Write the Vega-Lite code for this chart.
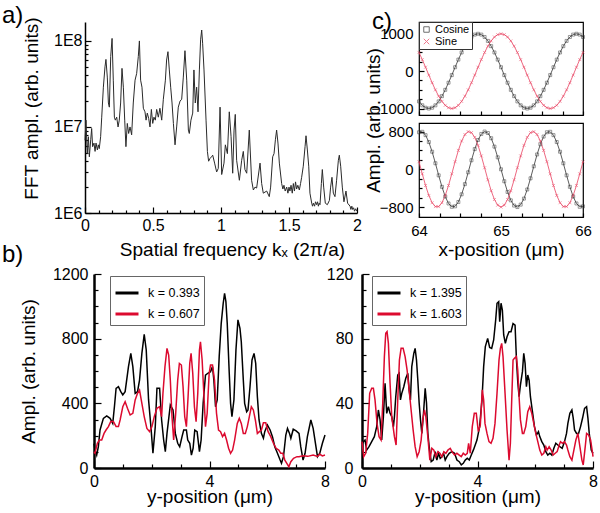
{
"$schema":"https://vega.github.io/schema/vega-lite/v6.json",
"padding":{"left":2,"top":3,"right":2,"bottom":2},
"config":{"font":"Liberation Sans","view":{"stroke":null},
"axis":{"labelFont":"Liberation Sans","titleFont":"Liberation Sans","labelFontSize":16,"titleFontSize":19,"titleFontWeight":"normal","labelColor":"#000","titleColor":"#000","domainColor":"#000","tickColor":"#000","grid":false,"labelOverlap":false,"labelFlush":false,"labelBound":false,"domainWidth":1.5,"tickWidth":1.2},
"title":{"font":"Liberation Sans","fontSize":24,"fontWeight":"normal","anchor":"start","frame":"group","color":"#000","offset":2,"baseline":"alphabetic"},
"legend":{"labelFont":"Liberation Sans","labelColor":"#000"}},
"datasets":{
"fft":[{"k":0,"a":7000000},{"k":0.007,"a":12000000},{"k":0.017,"a":4900000},{"k":0.025,"a":7700000},{"k":0.032,"a":4500000},{"k":0.042,"a":7100000},{"k":0.049,"a":9600000},{"k":0.056,"a":5900000},{"k":0.066,"a":6500000},{"k":0.074,"a":5200000},{"k":0.081,"a":6500000},{"k":0.091,"a":5400000},{"k":0.098,"a":6200000},{"k":0.105,"a":5600000},{"k":0.115,"a":7700000},{"k":0.123,"a":13000000},{"k":0.135,"a":29000000},{"k":0.147,"a":50000000},{"k":0.154,"a":61000000},{"k":0.164,"a":38000000},{"k":0.172,"a":19000000},{"k":0.179,"a":17000000},{"k":0.189,"a":66000000},{"k":0.199,"a":107000000},{"k":0.208,"a":35000000},{"k":0.216,"a":13000000},{"k":0.223,"a":12000000},{"k":0.233,"a":13000000},{"k":0.243,"a":10000000},{"k":0.252,"a":12000000},{"k":0.262,"a":19000000},{"k":0.272,"a":48000000},{"k":0.282,"a":29000000},{"k":0.292,"a":12000000},{"k":0.301,"a":5900000},{"k":0.311,"a":11000000},{"k":0.321,"a":8400000},{"k":0.331,"a":10000000},{"k":0.343,"a":8100000},{"k":0.355,"a":19000000},{"k":0.368,"a":35000000},{"k":0.38,"a":42000000},{"k":0.392,"a":66000000},{"k":0.4,"a":100000000},{"k":0.409,"a":35000000},{"k":0.419,"a":29000000},{"k":0.429,"a":16500000},{"k":0.441,"a":15000000},{"k":0.449,"a":12000000},{"k":0.458,"a":14500000},{"k":0.468,"a":12600000},{"k":0.478,"a":10000000},{"k":0.488,"a":16000000},{"k":0.498,"a":11000000},{"k":0.507,"a":13000000},{"k":0.517,"a":12000000},{"k":0.527,"a":16000000},{"k":0.539,"a":13000000},{"k":0.551,"a":16500000},{"k":0.564,"a":12000000},{"k":0.576,"a":21000000},{"k":0.591,"a":35000000},{"k":0.6,"a":60000000},{"k":0.61,"a":75000000},{"k":0.62,"a":46000000},{"k":0.63,"a":29000000},{"k":0.64,"a":19000000},{"k":0.65,"a":11000000},{"k":0.662,"a":6200000},{"k":0.674,"a":10000000},{"k":0.686,"a":17000000},{"k":0.699,"a":20000000},{"k":0.711,"a":21000000},{"k":0.723,"a":38000000},{"k":0.735,"a":77000000},{"k":0.748,"a":35000000},{"k":0.76,"a":9200000},{"k":0.767,"a":8400000},{"k":0.779,"a":12000000},{"k":0.792,"a":14500000},{"k":0.801,"a":46000000},{"k":0.811,"a":19000000},{"k":0.821,"a":29000000},{"k":0.831,"a":15000000},{"k":0.841,"a":46000000},{"k":0.85,"a":103000000},{"k":0.858,"a":134000000},{"k":0.865,"a":94000000},{"k":0.875,"a":46000000},{"k":0.89,"a":12000000},{"k":0.9,"a":5200000},{"k":0.909,"a":4000000},{"k":0.919,"a":4300000},{"k":0.93,"a":4500000},{"k":0.939,"a":4700000},{"k":0.953,"a":3800000},{"k":0.968,"a":3000000},{"k":0.98,"a":3300000},{"k":0.993,"a":17000000},{"k":1.005,"a":2800000},{"k":1.022,"a":3800000},{"k":1.032,"a":6200000},{"k":1.047,"a":4900000},{"k":1.061,"a":15000000},{"k":1.074,"a":7700000},{"k":1.086,"a":2900000},{"k":1.096,"a":9200000},{"k":1.105,"a":14000000},{"k":1.115,"a":4100000},{"k":1.135,"a":2400000},{"k":1.152,"a":4100000},{"k":1.164,"a":5200000},{"k":1.176,"a":3200000},{"k":1.189,"a":2900000},{"k":1.208,"a":9200000},{"k":1.225,"a":2400000},{"k":1.238,"a":1850000},{"k":1.25,"a":2000000},{"k":1.262,"a":1950000},{"k":1.287,"a":3800000},{"k":1.299,"a":2200000},{"k":1.311,"a":1700000},{"k":1.336,"a":1800000},{"k":1.355,"a":1550000},{"k":1.365,"a":2000000},{"k":1.38,"a":4500000},{"k":1.39,"a":4900000},{"k":1.4,"a":7100000},{"k":1.409,"a":9200000},{"k":1.419,"a":6500000},{"k":1.429,"a":3800000},{"k":1.446,"a":2200000},{"k":1.455,"a":1900000},{"k":1.463,"a":2100000},{"k":1.472,"a":1800000},{"k":1.483,"a":2000000},{"k":1.492,"a":1700000},{"k":1.5,"a":2000000},{"k":1.507,"a":1800000},{"k":1.515,"a":2100000},{"k":1.524,"a":1700000},{"k":1.532,"a":2200000},{"k":1.54,"a":1800000},{"k":1.548,"a":2300000},{"k":1.556,"a":1900000},{"k":1.565,"a":2100000},{"k":1.576,"a":1850000},{"k":1.585,"a":2200000},{"k":1.593,"a":2600000},{"k":1.605,"a":3500000},{"k":1.618,"a":5900000},{"k":1.625,"a":7900000},{"k":1.635,"a":5400000},{"k":1.645,"a":3500000},{"k":1.654,"a":1700000},{"k":1.667,"a":1300000},{"k":1.673,"a":1200000},{"k":1.679,"a":1300000},{"k":1.688,"a":1200000},{"k":1.695,"a":1350000},{"k":1.703,"a":1250000},{"k":1.71,"a":1350000},{"k":1.716,"a":1200000},{"k":1.722,"a":1300000},{"k":1.728,"a":1250000},{"k":1.738,"a":2200000},{"k":1.745,"a":3200000},{"k":1.755,"a":2000000},{"k":1.767,"a":1300000},{"k":1.782,"a":1250000},{"k":1.797,"a":1400000},{"k":1.806,"a":2000000},{"k":1.816,"a":2600000},{"k":1.826,"a":1700000},{"k":1.838,"a":1550000},{"k":1.85,"a":2400000},{"k":1.863,"a":4100000},{"k":1.87,"a":4700000},{"k":1.88,"a":3500000},{"k":1.892,"a":2000000},{"k":1.904,"a":1350000},{"k":1.919,"a":1800000},{"k":1.931,"a":1300000},{"k":1.949,"a":1200000},{"k":1.955,"a":1100000},{"k":1.962,"a":1200000},{"k":1.968,"a":1100000},{"k":1.975,"a":1150000},{"k":1.982,"a":1050000},{"k":1.99,"a":1120000},{"k":2,"a":1050000}],
"c1":[{"x":64,"Cosine":-809,"Sine":500},{"x":64.04,"Cosine":-914,"Sine":309},{"x":64.08,"Cosine":-978,"Sine":105},{"x":64.12,"Cosine":-1000,"Sine":-105},{"x":64.16,"Cosine":-978,"Sine":-309},{"x":64.2,"Cosine":-914,"Sine":-500},{"x":64.24,"Cosine":-809,"Sine":-669},{"x":64.28,"Cosine":-669,"Sine":-809},{"x":64.32,"Cosine":-500,"Sine":-914},{"x":64.36,"Cosine":-309,"Sine":-978},{"x":64.4,"Cosine":-105,"Sine":-1000},{"x":64.44,"Cosine":105,"Sine":-978},{"x":64.48,"Cosine":309,"Sine":-914},{"x":64.52,"Cosine":500,"Sine":-809},{"x":64.56,"Cosine":669,"Sine":-669},{"x":64.6,"Cosine":809,"Sine":-500},{"x":64.64,"Cosine":914,"Sine":-309},{"x":64.68,"Cosine":978,"Sine":-105},{"x":64.72,"Cosine":1000,"Sine":105},{"x":64.76,"Cosine":978,"Sine":309},{"x":64.8,"Cosine":914,"Sine":500},{"x":64.84,"Cosine":809,"Sine":669},{"x":64.88,"Cosine":669,"Sine":809},{"x":64.92,"Cosine":500,"Sine":914},{"x":64.96,"Cosine":309,"Sine":978},{"x":65,"Cosine":105,"Sine":1000},{"x":65.04,"Cosine":-105,"Sine":978},{"x":65.08,"Cosine":-309,"Sine":914},{"x":65.12,"Cosine":-500,"Sine":809},{"x":65.16,"Cosine":-669,"Sine":669},{"x":65.2,"Cosine":-809,"Sine":500},{"x":65.24,"Cosine":-914,"Sine":309},{"x":65.28,"Cosine":-978,"Sine":105},{"x":65.32,"Cosine":-1000,"Sine":-105},{"x":65.36,"Cosine":-978,"Sine":-309},{"x":65.4,"Cosine":-914,"Sine":-500},{"x":65.44,"Cosine":-809,"Sine":-669},{"x":65.48,"Cosine":-669,"Sine":-809},{"x":65.52,"Cosine":-500,"Sine":-914},{"x":65.56,"Cosine":-309,"Sine":-978},{"x":65.6,"Cosine":-105,"Sine":-1000},{"x":65.64,"Cosine":105,"Sine":-978},{"x":65.68,"Cosine":309,"Sine":-914},{"x":65.72,"Cosine":500,"Sine":-809},{"x":65.76,"Cosine":669,"Sine":-669},{"x":65.8,"Cosine":809,"Sine":-500},{"x":65.84,"Cosine":914,"Sine":-309},{"x":65.88,"Cosine":978,"Sine":-105},{"x":65.92,"Cosine":1000,"Sine":105},{"x":65.96,"Cosine":978,"Sine":309},{"x":66,"Cosine":914,"Sine":500}],
"c2":[{"x":64,"Cosine":784,"Sine":160},{"x":64.04,"Cosine":794,"Sine":-96},{"x":64.08,"Cosine":723,"Sine":-343},{"x":64.12,"Cosine":577,"Sine":-554},{"x":64.16,"Cosine":372,"Sine":-708},{"x":64.2,"Cosine":128,"Sine":-790},{"x":64.24,"Cosine":-128,"Sine":-790},{"x":64.28,"Cosine":-372,"Sine":-708},{"x":64.32,"Cosine":-577,"Sine":-554},{"x":64.36,"Cosine":-723,"Sine":-343},{"x":64.4,"Cosine":-794,"Sine":-96},{"x":64.44,"Cosine":-784,"Sine":160},{"x":64.48,"Cosine":-693,"Sine":400},{"x":64.52,"Cosine":-530,"Sine":599},{"x":64.56,"Cosine":-314,"Sine":736},{"x":64.6,"Cosine":-64,"Sine":797},{"x":64.64,"Cosine":191,"Sine":777},{"x":64.68,"Cosine":428,"Sine":676},{"x":64.72,"Cosine":620,"Sine":506},{"x":64.76,"Cosine":748,"Sine":284},{"x":64.8,"Cosine":799,"Sine":32},{"x":64.84,"Cosine":768,"Sine":-223},{"x":64.88,"Cosine":658,"Sine":-454},{"x":64.92,"Cosine":480,"Sine":-640},{"x":64.96,"Cosine":253,"Sine":-759},{"x":65,"Cosine":0,"Sine":-800},{"x":65.04,"Cosine":-253,"Sine":-759},{"x":65.08,"Cosine":-480,"Sine":-640},{"x":65.12,"Cosine":-658,"Sine":-454},{"x":65.16,"Cosine":-768,"Sine":-223},{"x":65.2,"Cosine":-799,"Sine":32},{"x":65.24,"Cosine":-748,"Sine":284},{"x":65.28,"Cosine":-620,"Sine":506},{"x":65.32,"Cosine":-428,"Sine":676},{"x":65.36,"Cosine":-191,"Sine":777},{"x":65.4,"Cosine":64,"Sine":797},{"x":65.44,"Cosine":314,"Sine":736},{"x":65.48,"Cosine":530,"Sine":599},{"x":65.52,"Cosine":693,"Sine":400},{"x":65.56,"Cosine":784,"Sine":160},{"x":65.6,"Cosine":794,"Sine":-96},{"x":65.64,"Cosine":723,"Sine":-343},{"x":65.68,"Cosine":577,"Sine":-554},{"x":65.72,"Cosine":372,"Sine":-708},{"x":65.76,"Cosine":128,"Sine":-790},{"x":65.8,"Cosine":-128,"Sine":-790},{"x":65.84,"Cosine":-372,"Sine":-708},{"x":65.88,"Cosine":-577,"Sine":-554},{"x":65.92,"Cosine":-723,"Sine":-343},{"x":65.96,"Cosine":-794,"Sine":-96},{"x":66,"Cosine":-784,"Sine":160}],
"b1":[{"p":0,"v":150,"s":"k = 0.393"},{"p":0.035,"v":111,"s":"k = 0.393"},{"p":0.093,"v":80,"s":"k = 0.393"},{"p":0.151,"v":132,"s":"k = 0.393"},{"p":0.209,"v":235,"s":"k = 0.393"},{"p":0.325,"v":307,"s":"k = 0.393"},{"p":0.44,"v":322,"s":"k = 0.393"},{"p":0.557,"v":307,"s":"k = 0.393"},{"p":0.649,"v":276,"s":"k = 0.393"},{"p":0.707,"v":379,"s":"k = 0.393"},{"p":0.765,"v":493,"s":"k = 0.393"},{"p":0.846,"v":503,"s":"k = 0.393"},{"p":0.928,"v":472,"s":"k = 0.393"},{"p":0.997,"v":452,"s":"k = 0.393"},{"p":1.078,"v":472,"s":"k = 0.393"},{"p":1.194,"v":627,"s":"k = 0.393"},{"p":1.275,"v":709,"s":"k = 0.393"},{"p":1.345,"v":627,"s":"k = 0.393"},{"p":1.426,"v":462,"s":"k = 0.393"},{"p":1.507,"v":472,"s":"k = 0.393"},{"p":1.577,"v":544,"s":"k = 0.393"},{"p":1.658,"v":709,"s":"k = 0.393"},{"p":1.739,"v":827,"s":"k = 0.393"},{"p":1.809,"v":730,"s":"k = 0.393"},{"p":1.89,"v":421,"s":"k = 0.393"},{"p":1.971,"v":256,"s":"k = 0.393"},{"p":2.041,"v":91,"s":"k = 0.393"},{"p":2.122,"v":256,"s":"k = 0.393"},{"p":2.18,"v":493,"s":"k = 0.393"},{"p":2.272,"v":493,"s":"k = 0.393"},{"p":2.342,"v":297,"s":"k = 0.393"},{"p":2.412,"v":173,"s":"k = 0.393"},{"p":2.47,"v":101,"s":"k = 0.393"},{"p":2.528,"v":214,"s":"k = 0.393"},{"p":2.643,"v":390,"s":"k = 0.393"},{"p":2.736,"v":359,"s":"k = 0.393"},{"p":2.817,"v":214,"s":"k = 0.393"},{"p":2.899,"v":153,"s":"k = 0.393"},{"p":2.968,"v":132,"s":"k = 0.393"},{"p":3.049,"v":194,"s":"k = 0.393"},{"p":3.107,"v":235,"s":"k = 0.393"},{"p":3.2,"v":235,"s":"k = 0.393"},{"p":3.246,"v":173,"s":"k = 0.393"},{"p":3.316,"v":153,"s":"k = 0.393"},{"p":3.374,"v":80,"s":"k = 0.393"},{"p":3.432,"v":122,"s":"k = 0.393"},{"p":3.49,"v":235,"s":"k = 0.393"},{"p":3.571,"v":225,"s":"k = 0.393"},{"p":3.652,"v":101,"s":"k = 0.393"},{"p":3.71,"v":173,"s":"k = 0.393"},{"p":3.78,"v":400,"s":"k = 0.393"},{"p":3.861,"v":575,"s":"k = 0.393"},{"p":3.942,"v":586,"s":"k = 0.393"},{"p":4.035,"v":596,"s":"k = 0.393"},{"p":4.104,"v":627,"s":"k = 0.393"},{"p":4.151,"v":544,"s":"k = 0.393"},{"p":4.209,"v":379,"s":"k = 0.393"},{"p":4.267,"v":421,"s":"k = 0.393"},{"p":4.336,"v":689,"s":"k = 0.393"},{"p":4.406,"v":895,"s":"k = 0.393"},{"p":4.475,"v":1019,"s":"k = 0.393"},{"p":4.522,"v":1080,"s":"k = 0.393"},{"p":4.568,"v":1029,"s":"k = 0.393"},{"p":4.614,"v":895,"s":"k = 0.393"},{"p":4.684,"v":586,"s":"k = 0.393"},{"p":4.73,"v":400,"s":"k = 0.393"},{"p":4.777,"v":318,"s":"k = 0.393"},{"p":4.846,"v":421,"s":"k = 0.393"},{"p":4.916,"v":730,"s":"k = 0.393"},{"p":4.985,"v":916,"s":"k = 0.393"},{"p":5.055,"v":864,"s":"k = 0.393"},{"p":5.101,"v":781,"s":"k = 0.393"},{"p":5.171,"v":544,"s":"k = 0.393"},{"p":5.217,"v":400,"s":"k = 0.393"},{"p":5.287,"v":348,"s":"k = 0.393"},{"p":5.333,"v":359,"s":"k = 0.393"},{"p":5.403,"v":503,"s":"k = 0.393"},{"p":5.472,"v":668,"s":"k = 0.393"},{"p":5.542,"v":709,"s":"k = 0.393"},{"p":5.6,"v":647,"s":"k = 0.393"},{"p":5.658,"v":441,"s":"k = 0.393"},{"p":5.716,"v":297,"s":"k = 0.393"},{"p":5.797,"v":214,"s":"k = 0.393"},{"p":5.867,"v":184,"s":"k = 0.393"},{"p":5.913,"v":225,"s":"k = 0.393"},{"p":6.006,"v":266,"s":"k = 0.393"},{"p":6.099,"v":235,"s":"k = 0.393"},{"p":6.18,"v":194,"s":"k = 0.393"},{"p":6.261,"v":132,"s":"k = 0.393"},{"p":6.354,"v":91,"s":"k = 0.393"},{"p":6.446,"v":49,"s":"k = 0.393"},{"p":6.493,"v":29,"s":"k = 0.393"},{"p":6.562,"v":70,"s":"k = 0.393"},{"p":6.643,"v":204,"s":"k = 0.393"},{"p":6.701,"v":245,"s":"k = 0.393"},{"p":6.771,"v":214,"s":"k = 0.393"},{"p":6.817,"v":184,"s":"k = 0.393"},{"p":6.9,"v":240,"s":"k = 0.393"},{"p":7,"v":230,"s":"k = 0.393"},{"p":7.1,"v":214,"s":"k = 0.393"},{"p":7.16,"v":132,"s":"k = 0.393"},{"p":7.24,"v":49,"s":"k = 0.393"},{"p":7.31,"v":91,"s":"k = 0.393"},{"p":7.39,"v":194,"s":"k = 0.393"},{"p":7.51,"v":297,"s":"k = 0.393"},{"p":7.59,"v":245,"s":"k = 0.393"},{"p":7.74,"v":70,"s":"k = 0.393"},{"p":7.82,"v":91,"s":"k = 0.393"},{"p":7.91,"v":153,"s":"k = 0.393"},{"p":8,"v":204,"s":"k = 0.393"},
{"p":0,"v":100,"s":"k = 0.607"},{"p":0.035,"v":91,"s":"k = 0.607"},{"p":0.116,"v":153,"s":"k = 0.607"},{"p":0.186,"v":173,"s":"k = 0.607"},{"p":0.267,"v":173,"s":"k = 0.607"},{"p":0.348,"v":214,"s":"k = 0.607"},{"p":0.417,"v":235,"s":"k = 0.607"},{"p":0.499,"v":256,"s":"k = 0.607"},{"p":0.58,"v":287,"s":"k = 0.607"},{"p":0.672,"v":287,"s":"k = 0.607"},{"p":0.765,"v":256,"s":"k = 0.607"},{"p":0.846,"v":256,"s":"k = 0.607"},{"p":0.904,"v":297,"s":"k = 0.607"},{"p":0.997,"v":379,"s":"k = 0.607"},{"p":1.078,"v":410,"s":"k = 0.607"},{"p":1.159,"v":369,"s":"k = 0.607"},{"p":1.252,"v":328,"s":"k = 0.607"},{"p":1.345,"v":338,"s":"k = 0.607"},{"p":1.426,"v":421,"s":"k = 0.607"},{"p":1.507,"v":462,"s":"k = 0.607"},{"p":1.577,"v":482,"s":"k = 0.607"},{"p":1.658,"v":400,"s":"k = 0.607"},{"p":1.739,"v":318,"s":"k = 0.607"},{"p":1.832,"v":245,"s":"k = 0.607"},{"p":1.925,"v":225,"s":"k = 0.607"},{"p":2.006,"v":256,"s":"k = 0.607"},{"p":2.087,"v":318,"s":"k = 0.607"},{"p":2.18,"v":369,"s":"k = 0.607"},{"p":2.272,"v":379,"s":"k = 0.607"},{"p":2.342,"v":318,"s":"k = 0.607"},{"p":2.388,"v":462,"s":"k = 0.607"},{"p":2.458,"v":627,"s":"k = 0.607"},{"p":2.528,"v":740,"s":"k = 0.607"},{"p":2.586,"v":699,"s":"k = 0.607"},{"p":2.643,"v":544,"s":"k = 0.607"},{"p":2.701,"v":318,"s":"k = 0.607"},{"p":2.759,"v":173,"s":"k = 0.607"},{"p":2.829,"v":338,"s":"k = 0.607"},{"p":2.899,"v":544,"s":"k = 0.607"},{"p":2.957,"v":647,"s":"k = 0.607"},{"p":3.026,"v":637,"s":"k = 0.607"},{"p":3.084,"v":503,"s":"k = 0.607"},{"p":3.142,"v":318,"s":"k = 0.607"},{"p":3.2,"v":256,"s":"k = 0.607"},{"p":3.258,"v":441,"s":"k = 0.607"},{"p":3.316,"v":647,"s":"k = 0.607"},{"p":3.362,"v":709,"s":"k = 0.607"},{"p":3.42,"v":586,"s":"k = 0.607"},{"p":3.478,"v":379,"s":"k = 0.607"},{"p":3.536,"v":287,"s":"k = 0.607"},{"p":3.594,"v":462,"s":"k = 0.607"},{"p":3.652,"v":730,"s":"k = 0.607"},{"p":3.687,"v":781,"s":"k = 0.607"},{"p":3.745,"v":668,"s":"k = 0.607"},{"p":3.803,"v":462,"s":"k = 0.607"},{"p":3.861,"v":256,"s":"k = 0.607"},{"p":3.919,"v":338,"s":"k = 0.607"},{"p":3.988,"v":586,"s":"k = 0.607"},{"p":4.035,"v":637,"s":"k = 0.607"},{"p":4.104,"v":637,"s":"k = 0.607"},{"p":4.174,"v":544,"s":"k = 0.607"},{"p":4.243,"v":338,"s":"k = 0.607"},{"p":4.313,"v":235,"s":"k = 0.607"},{"p":4.383,"v":225,"s":"k = 0.607"},{"p":4.452,"v":194,"s":"k = 0.607"},{"p":4.522,"v":214,"s":"k = 0.607"},{"p":4.591,"v":173,"s":"k = 0.607"},{"p":4.661,"v":122,"s":"k = 0.607"},{"p":4.73,"v":91,"s":"k = 0.607"},{"p":4.8,"v":111,"s":"k = 0.607"},{"p":4.87,"v":173,"s":"k = 0.607"},{"p":4.962,"v":276,"s":"k = 0.607"},{"p":5.032,"v":307,"s":"k = 0.607"},{"p":5.101,"v":276,"s":"k = 0.607"},{"p":5.171,"v":214,"s":"k = 0.607"},{"p":5.241,"v":214,"s":"k = 0.607"},{"p":5.31,"v":256,"s":"k = 0.607"},{"p":5.38,"v":318,"s":"k = 0.607"},{"p":5.449,"v":379,"s":"k = 0.607"},{"p":5.519,"v":359,"s":"k = 0.607"},{"p":5.588,"v":297,"s":"k = 0.607"},{"p":5.658,"v":214,"s":"k = 0.607"},{"p":5.727,"v":225,"s":"k = 0.607"},{"p":5.797,"v":235,"s":"k = 0.607"},{"p":5.867,"v":280,"s":"k = 0.607"},{"p":5.948,"v":280,"s":"k = 0.607"},{"p":6.029,"v":225,"s":"k = 0.607"},{"p":6.122,"v":194,"s":"k = 0.607"},{"p":6.214,"v":153,"s":"k = 0.607"},{"p":6.307,"v":122,"s":"k = 0.607"},{"p":6.4,"v":111,"s":"k = 0.607"},{"p":6.469,"v":91,"s":"k = 0.607"},{"p":6.539,"v":91,"s":"k = 0.607"},{"p":6.609,"v":49,"s":"k = 0.607"},{"p":6.678,"v":29,"s":"k = 0.607"},{"p":6.748,"v":8,"s":"k = 0.607"},{"p":6.817,"v":39,"s":"k = 0.607"},{"p":6.91,"v":60,"s":"k = 0.607"},{"p":7.03,"v":70,"s":"k = 0.607"},{"p":7.1,"v":70,"s":"k = 0.607"},{"p":7.24,"v":75,"s":"k = 0.607"},{"p":7.4,"v":72,"s":"k = 0.607"},{"p":7.59,"v":80,"s":"k = 0.607"},{"p":7.74,"v":72,"s":"k = 0.607"},{"p":7.82,"v":85,"s":"k = 0.607"},{"p":7.91,"v":75,"s":"k = 0.607"},{"p":8,"v":80,"s":"k = 0.607"}],
"b2":[{"p":0,"v":15,"s":"k = 1.395"},{"p":0.046,"v":16.3,"s":"k = 1.395"},{"p":0.104,"v":17.3,"s":"k = 1.395"},{"p":0.162,"v":11.1,"s":"k = 1.395"},{"p":0.243,"v":13.2,"s":"k = 1.395"},{"p":0.336,"v":16.3,"s":"k = 1.395"},{"p":0.428,"v":19.4,"s":"k = 1.395"},{"p":0.509,"v":25.6,"s":"k = 1.395"},{"p":0.567,"v":35.9,"s":"k = 1.395"},{"p":0.625,"v":29.9,"s":"k = 1.395"},{"p":0.683,"v":17.3,"s":"k = 1.395"},{"p":0.741,"v":31.8,"s":"k = 1.395"},{"p":0.799,"v":52.4,"s":"k = 1.395"},{"p":0.856,"v":33.8,"s":"k = 1.395"},{"p":0.914,"v":37.9,"s":"k = 1.395"},{"p":0.972,"v":33.8,"s":"k = 1.395"},{"p":1.03,"v":31.8,"s":"k = 1.395"},{"p":1.088,"v":25.6,"s":"k = 1.395"},{"p":1.123,"v":31.8,"s":"k = 1.395"},{"p":1.169,"v":44.1,"s":"k = 1.395"},{"p":1.238,"v":57.5,"s":"k = 1.395"},{"p":1.285,"v":58.6,"s":"k = 1.395"},{"p":1.331,"v":42.1,"s":"k = 1.395"},{"p":1.377,"v":46.2,"s":"k = 1.395"},{"p":1.447,"v":50.3,"s":"k = 1.395"},{"p":1.516,"v":55.5,"s":"k = 1.395"},{"p":1.586,"v":58.6,"s":"k = 1.395"},{"p":1.632,"v":48.3,"s":"k = 1.395"},{"p":1.678,"v":42.1,"s":"k = 1.395"},{"p":1.724,"v":62.7,"s":"k = 1.395"},{"p":1.794,"v":70.9,"s":"k = 1.395"},{"p":1.84,"v":74,"s":"k = 1.395"},{"p":1.887,"v":66.8,"s":"k = 1.395"},{"p":1.933,"v":54.4,"s":"k = 1.395"},{"p":1.979,"v":40.2,"s":"k = 1.395"},{"p":2.025,"v":29.9,"s":"k = 1.395"},{"p":2.072,"v":21.4,"s":"k = 1.395"},{"p":2.13,"v":33.8,"s":"k = 1.395"},{"p":2.188,"v":49.3,"s":"k = 1.395"},{"p":2.234,"v":40.2,"s":"k = 1.395"},{"p":2.28,"v":21.6,"s":"k = 1.395"},{"p":2.326,"v":13.2,"s":"k = 1.395"},{"p":2.396,"v":3.9,"s":"k = 1.395"},{"p":2.465,"v":4.9,"s":"k = 1.395"},{"p":2.535,"v":10.1,"s":"k = 1.395"},{"p":2.593,"v":4.9,"s":"k = 1.395"},{"p":2.65,"v":9.1,"s":"k = 1.395"},{"p":2.708,"v":6,"s":"k = 1.395"},{"p":2.766,"v":7,"s":"k = 1.395"},{"p":2.824,"v":9.1,"s":"k = 1.395"},{"p":2.882,"v":4.9,"s":"k = 1.395"},{"p":2.94,"v":7,"s":"k = 1.395"},{"p":3.021,"v":9.1,"s":"k = 1.395"},{"p":3.113,"v":10.1,"s":"k = 1.395"},{"p":3.206,"v":9.1,"s":"k = 1.395"},{"p":3.287,"v":4.9,"s":"k = 1.395"},{"p":3.368,"v":3.9,"s":"k = 1.395"},{"p":3.438,"v":1.9,"s":"k = 1.395"},{"p":3.507,"v":2.9,"s":"k = 1.395"},{"p":3.576,"v":4.9,"s":"k = 1.395"},{"p":3.646,"v":6,"s":"k = 1.395"},{"p":3.715,"v":4.9,"s":"k = 1.395"},{"p":3.785,"v":8,"s":"k = 1.395"},{"p":3.866,"v":11.5,"s":"k = 1.395"},{"p":3.981,"v":17.3,"s":"k = 1.395"},{"p":4.074,"v":25.6,"s":"k = 1.395"},{"p":4.155,"v":42.1,"s":"k = 1.395"},{"p":4.213,"v":62.7,"s":"k = 1.395"},{"p":4.271,"v":75.1,"s":"k = 1.395"},{"p":4.352,"v":80.2,"s":"k = 1.395"},{"p":4.421,"v":74.6,"s":"k = 1.395"},{"p":4.491,"v":74,"s":"k = 1.395"},{"p":4.56,"v":79.2,"s":"k = 1.395"},{"p":4.63,"v":91.6,"s":"k = 1.395"},{"p":4.676,"v":101.9,"s":"k = 1.395"},{"p":4.734,"v":102.9,"s":"k = 1.395"},{"p":4.769,"v":90.5,"s":"k = 1.395"},{"p":4.815,"v":101.9,"s":"k = 1.395"},{"p":4.861,"v":97.7,"s":"k = 1.395"},{"p":4.907,"v":82.3,"s":"k = 1.395"},{"p":4.965,"v":77.1,"s":"k = 1.395"},{"p":5.023,"v":81.2,"s":"k = 1.395"},{"p":5.093,"v":84.3,"s":"k = 1.395"},{"p":5.162,"v":84.3,"s":"k = 1.395"},{"p":5.231,"v":89.4,"s":"k = 1.395"},{"p":5.301,"v":88.4,"s":"k = 1.395"},{"p":5.347,"v":67.8,"s":"k = 1.395"},{"p":5.394,"v":53.4,"s":"k = 1.395"},{"p":5.44,"v":44.1,"s":"k = 1.395"},{"p":5.486,"v":51.3,"s":"k = 1.395"},{"p":5.556,"v":59.6,"s":"k = 1.395"},{"p":5.602,"v":70.9,"s":"k = 1.395"},{"p":5.648,"v":64.7,"s":"k = 1.395"},{"p":5.694,"v":50.3,"s":"k = 1.395"},{"p":5.741,"v":57.5,"s":"k = 1.395"},{"p":5.787,"v":54.4,"s":"k = 1.395"},{"p":5.833,"v":44.1,"s":"k = 1.395"},{"p":5.88,"v":37.9,"s":"k = 1.395"},{"p":5.926,"v":31.8,"s":"k = 1.395"},{"p":5.972,"v":25.6,"s":"k = 1.395"},{"p":6.042,"v":20.4,"s":"k = 1.395"},{"p":6.111,"v":22.5,"s":"k = 1.395"},{"p":6.157,"v":19.4,"s":"k = 1.395"},{"p":6.227,"v":16.3,"s":"k = 1.395"},{"p":6.296,"v":14.2,"s":"k = 1.395"},{"p":6.366,"v":10.1,"s":"k = 1.395"},{"p":6.435,"v":8,"s":"k = 1.395"},{"p":6.505,"v":9.1,"s":"k = 1.395"},{"p":6.574,"v":8,"s":"k = 1.395"},{"p":6.644,"v":12.2,"s":"k = 1.395"},{"p":6.713,"v":15.3,"s":"k = 1.395"},{"p":6.782,"v":14.2,"s":"k = 1.395"},{"p":6.852,"v":13.2,"s":"k = 1.395"},{"p":6.933,"v":12.2,"s":"k = 1.395"},{"p":7.014,"v":16.3,"s":"k = 1.395"},{"p":7.083,"v":21.4,"s":"k = 1.395"},{"p":7.13,"v":27.6,"s":"k = 1.395"},{"p":7.199,"v":33.8,"s":"k = 1.395"},{"p":7.269,"v":35.9,"s":"k = 1.395"},{"p":7.315,"v":30.9,"s":"k = 1.395"},{"p":7.361,"v":23.5,"s":"k = 1.395"},{"p":7.431,"v":21.4,"s":"k = 1.395"},{"p":7.5,"v":21.4,"s":"k = 1.395"},{"p":7.569,"v":25.6,"s":"k = 1.395"},{"p":7.639,"v":30.9,"s":"k = 1.395"},{"p":7.708,"v":36.9,"s":"k = 1.395"},{"p":7.778,"v":37.9,"s":"k = 1.395"},{"p":7.824,"v":30.9,"s":"k = 1.395"},{"p":7.87,"v":21.4,"s":"k = 1.395"},{"p":7.94,"v":11.1,"s":"k = 1.395"},{"p":8,"v":9,"s":"k = 1.395"},
{"p":0,"v":16.3,"s":"k = 1.603"},{"p":0.058,"v":7,"s":"k = 1.603"},{"p":0.127,"v":9.1,"s":"k = 1.603"},{"p":0.197,"v":21.4,"s":"k = 1.603"},{"p":0.266,"v":46.2,"s":"k = 1.603"},{"p":0.336,"v":49.3,"s":"k = 1.603"},{"p":0.394,"v":49.3,"s":"k = 1.603"},{"p":0.451,"v":42.1,"s":"k = 1.603"},{"p":0.521,"v":27.6,"s":"k = 1.603"},{"p":0.59,"v":19.4,"s":"k = 1.603"},{"p":0.66,"v":17.3,"s":"k = 1.603"},{"p":0.718,"v":40,"s":"k = 1.603"},{"p":0.775,"v":68.9,"s":"k = 1.603"},{"p":0.822,"v":83.3,"s":"k = 1.603"},{"p":0.868,"v":84.3,"s":"k = 1.603"},{"p":0.914,"v":77.1,"s":"k = 1.603"},{"p":0.972,"v":52.4,"s":"k = 1.603"},{"p":1.03,"v":31.8,"s":"k = 1.603"},{"p":1.123,"v":19.4,"s":"k = 1.603"},{"p":1.181,"v":14.2,"s":"k = 1.603"},{"p":1.238,"v":42.1,"s":"k = 1.603"},{"p":1.296,"v":66.8,"s":"k = 1.603"},{"p":1.354,"v":74,"s":"k = 1.603"},{"p":1.424,"v":74,"s":"k = 1.603"},{"p":1.493,"v":68.9,"s":"k = 1.603"},{"p":1.562,"v":60.6,"s":"k = 1.603"},{"p":1.632,"v":48.3,"s":"k = 1.603"},{"p":1.701,"v":35.9,"s":"k = 1.603"},{"p":1.771,"v":23.5,"s":"k = 1.603"},{"p":1.84,"v":13.2,"s":"k = 1.603"},{"p":1.91,"v":7,"s":"k = 1.603"},{"p":1.979,"v":10.1,"s":"k = 1.603"},{"p":2.049,"v":17.3,"s":"k = 1.603"},{"p":2.106,"v":29.9,"s":"k = 1.603"},{"p":2.164,"v":35.9,"s":"k = 1.603"},{"p":2.211,"v":31.8,"s":"k = 1.603"},{"p":2.28,"v":19.4,"s":"k = 1.603"},{"p":2.35,"v":4.9,"s":"k = 1.603"},{"p":2.419,"v":12.2,"s":"k = 1.603"},{"p":2.488,"v":11.1,"s":"k = 1.603"},{"p":2.558,"v":7,"s":"k = 1.603"},{"p":2.627,"v":10.1,"s":"k = 1.603"},{"p":2.697,"v":9.1,"s":"k = 1.603"},{"p":2.766,"v":7,"s":"k = 1.603"},{"p":2.836,"v":10.1,"s":"k = 1.603"},{"p":2.905,"v":9.1,"s":"k = 1.603"},{"p":2.975,"v":11.1,"s":"k = 1.603"},{"p":3.056,"v":12.2,"s":"k = 1.603"},{"p":3.137,"v":9.5,"s":"k = 1.603"},{"p":3.206,"v":8,"s":"k = 1.603"},{"p":3.287,"v":9.1,"s":"k = 1.603"},{"p":3.368,"v":8,"s":"k = 1.603"},{"p":3.438,"v":7,"s":"k = 1.603"},{"p":3.507,"v":9.1,"s":"k = 1.603"},{"p":3.576,"v":8,"s":"k = 1.603"},{"p":3.646,"v":9.1,"s":"k = 1.603"},{"p":3.692,"v":15.3,"s":"k = 1.603"},{"p":3.75,"v":9.1,"s":"k = 1.603"},{"p":3.819,"v":25.6,"s":"k = 1.603"},{"p":3.889,"v":33.8,"s":"k = 1.603"},{"p":3.958,"v":33.8,"s":"k = 1.603"},{"p":4.028,"v":22.5,"s":"k = 1.603"},{"p":4.097,"v":26.6,"s":"k = 1.603"},{"p":4.167,"v":48.3,"s":"k = 1.603"},{"p":4.213,"v":42.1,"s":"k = 1.603"},{"p":4.259,"v":27.6,"s":"k = 1.603"},{"p":4.329,"v":21.4,"s":"k = 1.603"},{"p":4.398,"v":16.3,"s":"k = 1.603"},{"p":4.468,"v":15.3,"s":"k = 1.603"},{"p":4.537,"v":18.4,"s":"k = 1.603"},{"p":4.606,"v":27.6,"s":"k = 1.603"},{"p":4.676,"v":46.2,"s":"k = 1.603"},{"p":4.745,"v":66.8,"s":"k = 1.603"},{"p":4.792,"v":74,"s":"k = 1.603"},{"p":4.838,"v":77.1,"s":"k = 1.603"},{"p":4.884,"v":68.9,"s":"k = 1.603"},{"p":4.954,"v":46.2,"s":"k = 1.603"},{"p":5.023,"v":23.5,"s":"k = 1.603"},{"p":5.093,"v":4.9,"s":"k = 1.603"},{"p":5.139,"v":15.3,"s":"k = 1.603"},{"p":5.185,"v":42.1,"s":"k = 1.603"},{"p":5.231,"v":66.8,"s":"k = 1.603"},{"p":5.278,"v":67.8,"s":"k = 1.603"},{"p":5.347,"v":68.9,"s":"k = 1.603"},{"p":5.394,"v":60.6,"s":"k = 1.603"},{"p":5.44,"v":44.1,"s":"k = 1.603"},{"p":5.486,"v":29.9,"s":"k = 1.603"},{"p":5.556,"v":21.4,"s":"k = 1.603"},{"p":5.602,"v":21.4,"s":"k = 1.603"},{"p":5.671,"v":25.6,"s":"k = 1.603"},{"p":5.741,"v":34.8,"s":"k = 1.603"},{"p":5.81,"v":37.9,"s":"k = 1.603"},{"p":5.88,"v":33.8,"s":"k = 1.603"},{"p":5.949,"v":27.6,"s":"k = 1.603"},{"p":6.019,"v":21.4,"s":"k = 1.603"},{"p":6.088,"v":16.3,"s":"k = 1.603"},{"p":6.157,"v":11.1,"s":"k = 1.603"},{"p":6.227,"v":8,"s":"k = 1.603"},{"p":6.296,"v":9.1,"s":"k = 1.603"},{"p":6.366,"v":13.2,"s":"k = 1.603"},{"p":6.412,"v":11.1,"s":"k = 1.603"},{"p":6.481,"v":13.2,"s":"k = 1.603"},{"p":6.551,"v":11.1,"s":"k = 1.603"},{"p":6.62,"v":8,"s":"k = 1.603"},{"p":6.69,"v":9.1,"s":"k = 1.603"},{"p":6.759,"v":10.1,"s":"k = 1.603"},{"p":6.829,"v":14.2,"s":"k = 1.603"},{"p":6.875,"v":16.3,"s":"k = 1.603"},{"p":6.944,"v":15.3,"s":"k = 1.603"},{"p":7.014,"v":16.3,"s":"k = 1.603"},{"p":7.083,"v":14.2,"s":"k = 1.603"},{"p":7.13,"v":11.1,"s":"k = 1.603"},{"p":7.199,"v":7,"s":"k = 1.603"},{"p":7.269,"v":4.9,"s":"k = 1.603"},{"p":7.338,"v":11.1,"s":"k = 1.603"},{"p":7.407,"v":17.3,"s":"k = 1.603"},{"p":7.477,"v":21.4,"s":"k = 1.603"},{"p":7.546,"v":13.2,"s":"k = 1.603"},{"p":7.616,"v":4.9,"s":"k = 1.603"},{"p":7.662,"v":1.9,"s":"k = 1.603"},{"p":7.731,"v":13.2,"s":"k = 1.603"},{"p":7.778,"v":21.4,"s":"k = 1.603"},{"p":7.847,"v":20.4,"s":"k = 1.603"},{"p":7.917,"v":17.3,"s":"k = 1.603"},{"p":7.986,"v":9.1,"s":"k = 1.603"},{"p":8,"v":7,"s":"k = 1.603"}]
},
"vconcat":[
{"hconcat":[
 {"width":272,"height":191,
  "title":{"text":"a)","dx":-83,"dy":13},
  "data":{"name":"fft"},
  "mark":{"type":"line","color":"#2a2a2a","strokeWidth":1},
  "encoding":{
   "x":{"field":"k","type":"quantitative","scale":{"domain":[0,2],"nice":false,"zero":false},
    "axis":{"values":[0,0.1,0.2,0.3,0.4,0.5,0.6,0.7,0.8,0.9,1,1.1,1.2,1.3,1.4,1.5,1.6,1.7,1.8,1.9,2],"format":"~g","labelExpr":"round(datum.value*10)%5==0?datum.label:''","tickSize":{"condition":{"test":"round(datum.value*10)%5==0","value":-6},"value":-3},"labelPadding":10,"title":"Spatial frequency kₓ (2π/a)","titleX":147,"titleY":42,"titleBaseline":"alphabetic"}},
   "y":{"field":"a","type":"quantitative","scale":{"type":"log","domain":[1000000,166000000],"nice":false},
    "axis":{"values":[1000000,2000000,3000000,4000000,5000000,6000000,7000000,8000000,9000000,10000000,20000000,30000000,40000000,50000000,60000000,70000000,80000000,90000000,100000000],"labelExpr":"datum.value==1000000?'1E6':datum.value==10000000?'1E7':datum.value==100000000?'1E8':''","tickSize":{"condition":{"test":"datum.value==1000000||datum.value==10000000||datum.value==100000000","value":-6},"value":-3},"labelPadding":9,"title":"FFT ampl. (arb. units)","titleX":-48,"titleY":86,"titleBaseline":"alphabetic"}}
  }},
 {"vconcat":[
  {"width":164,"height":93,
   "title":{"text":"c)","dx":-47,"dy":19},
   "view":{"stroke":"#000","strokeWidth":1.2},
   "data":{"name":"c1"},
   "transform":[{"fold":["Cosine","Sine"],"as":["s","v"]}],
   "encoding":{
    "x":{"field":"x","type":"quantitative","scale":{"domain":[64,66],"nice":false,"zero":false},"axis":{"values":[64,64.25,64.5,64.75,65,65.25,65.5,65.75,66],"labels":false,"title":null,"tickSize":-4,"domain":false}},
    "y":{"field":"v","type":"quantitative","scale":{"domain":[-1173,1315],"nice":false,"zero":false},"axis":{"values":[-1000,-750,-500,-250,0,250,500,750,1000,1250],"labelExpr":"datum.value%1000==0?datum.label:''","format":"d","labelFontSize":15,"tickSize":{"condition":{"test":"datum.value%1000==0","value":-5},"value":-3},"labelPadding":11,"domain":false,"title":"Ampl. (arb. units)","titleX":-40,"titleY":98,"titleBaseline":"alphabetic"}},
    "color":{"field":"s","type":"nominal","scale":{"domain":["Cosine","Sine"],"range":["#333333","#e8405f"]},
     "legend":{"orient":"none","legendX":0,"legendY":0,"title":null,"labelFontSize":11,"padding":2,"rowPadding":0,"strokeColor":"#333","fillColor":"white","symbolSize":30,"symbolStrokeWidth":1,"labelOffset":3}}
   },
   "layer":[
    {"mark":{"type":"line","strokeWidth":0.8}},
    {"mark":{"type":"point","filled":false,"size":9,"strokeWidth":0.7},"encoding":{"shape":{"field":"s","type":"nominal","scale":{"domain":["Cosine","Sine"],"range":["square","M-1,-1L1,1M-1,1L1,-1"]},"legend":null}}}
   ]},
  {"width":164,"height":94,
   "view":{"stroke":"#000","strokeWidth":1.2},
   "data":{"name":"c2"},
   "transform":[{"fold":["Cosine","Sine"],"as":["s","v"]}],
   "encoding":{
    "x":{"field":"x","type":"quantitative","scale":{"domain":[64,66],"nice":false,"zero":false},"axis":{"values":[64,64.25,64.5,64.75,65,65.25,65.5,65.75,66],"format":"~g","labelExpr":"datum.value%1==0?datum.label:''","labelFontSize":15,"tickSize":-4,"labelPadding":10,"domain":false,"title":"x-position (μm)","titleY":38,"titleBaseline":"alphabetic"}},
    "y":{"field":"v","type":"quantitative","scale":{"domain":[-1010,980],"nice":false,"zero":false},"axis":{"values":[-800,-600,-400,-200,0,200,400,600,800],"labelExpr":"datum.value%800==0?datum.label:''","labelFontSize":15,"tickSize":{"condition":{"test":"datum.value%800==0","value":-5},"value":-3},"labelPadding":11,"domain":false,"title":null}},
    "color":{"field":"s","type":"nominal","scale":{"domain":["Cosine","Sine"],"range":["#333333","#e8405f"]},"legend":null}
   },
   "layer":[
    {"mark":{"type":"line","strokeWidth":0.8}},
    {"mark":{"type":"point","filled":false,"size":9,"strokeWidth":0.7},"encoding":{"shape":{"field":"s","type":"nominal","scale":{"domain":["Cosine","Sine"],"range":["square","M-1,-1L1,1M-1,1L1,-1"]},"legend":null}}}
   ]}
 ],"spacing":8,"bounds":"flush","resolve":{"scale":{"color":"independent","shape":"independent"},"legend":{"color":"independent"}}}
],"spacing":62,"bounds":"flush","resolve":{"scale":{"color":"independent"},"legend":{"color":"independent"}}},
{"hconcat":[
 {"width":1,"height":1,"data":{"values":[{"q":1}]},"mark":{"type":"point","opacity":0},"encoding":{}},
 {"hconcat":[
  {"width":231,"height":194,
   "title":{"text":"b)","dx":-92,"dy":3},
   "data":{"name":"b1"},
   "mark":{"type":"line","strokeWidth":1.5},
   "encoding":{
    "x":{"field":"p","type":"quantitative","scale":{"domain":[0,8],"nice":false,"zero":false},"axis":{"values":[0,1,2,3,4,5,6,7,8],"labelExpr":"datum.value%4==0?datum.label:''","tickSize":{"condition":{"test":"datum.value%4==0","value":-7},"value":-4},"labelPadding":12,"domainWidth":2.5,"title":"y-position (μm)","titleY":34,"titleBaseline":"alphabetic"}},
    "y":{"field":"v","type":"quantitative","scale":{"domain":[0,1200],"nice":false},"axis":{"values":[0,100,200,300,400,500,600,700,800,900,1000,1100,1200],"format":"d","labelExpr":"datum.value%400==0?datum.label:''","tickSize":{"condition":{"test":"datum.value%400==0","value":-7},"value":-4},"labelPadding":13,"domainWidth":2.5,"title":"Ampl. (arb. units)","titleX":-60,"titleBaseline":"alphabetic"}},
    "color":{"field":"s","type":"nominal","scale":{"domain":["k = 0.393","k = 0.607"],"range":["#000000","#dc0a2f"]},
     "legend":{"orient":"none","legendX":16,"legendY":2,"title":null,"strokeColor":"#666","fillColor":"white","padding":4,"symbolType":"stroke","symbolSize":529,"symbolStrokeWidth":3,"labelFontSize":12.5,"labelOffset":8,"rowPadding":1}}
   }},
  {"width":231,"height":194,
   "data":{"name":"b2"},
   "mark":{"type":"line","strokeWidth":1.5},
   "encoding":{
    "x":{"field":"p","type":"quantitative","scale":{"domain":[0,8],"nice":false,"zero":false},"axis":{"values":[0,1,2,3,4,5,6,7,8],"labelExpr":"datum.value%4==0?datum.label:''","tickSize":{"condition":{"test":"datum.value%4==0","value":-7},"value":-4},"labelPadding":12,"domainWidth":2.5,"title":"y-position (μm)","titleY":34,"titleBaseline":"alphabetic"}},
    "y":{"field":"v","type":"quantitative","scale":{"domain":[0,120],"nice":false},"axis":{"values":[0,10,20,30,40,50,60,70,80,90,100,110,120],"labelExpr":"datum.value%40==0?datum.label:''","tickSize":{"condition":{"test":"datum.value%40==0","value":-7},"value":-4},"labelPadding":16,"domainWidth":2.5,"title":null}},
    "color":{"field":"s","type":"nominal","scale":{"domain":["k = 1.395","k = 1.603"],"range":["#000000","#dc0a2f"]},
     "legend":{"orient":"none","legendX":10,"legendY":2,"title":null,"strokeColor":"#666","fillColor":"white","padding":4,"symbolType":"stroke","symbolSize":529,"symbolStrokeWidth":3,"labelFontSize":12.5,"labelOffset":8,"rowPadding":1}}
   }}
 ],"spacing":37,"bounds":"flush","resolve":{"scale":{"color":"independent"},"legend":{"color":"independent"}}}
],"spacing":8,"bounds":"flush","resolve":{"scale":{"color":"independent"},"legend":{"color":"independent"}}}
],
"spacing":-17,
"resolve":{"scale":{"color":"independent"},"legend":{"color":"independent"}}
}
